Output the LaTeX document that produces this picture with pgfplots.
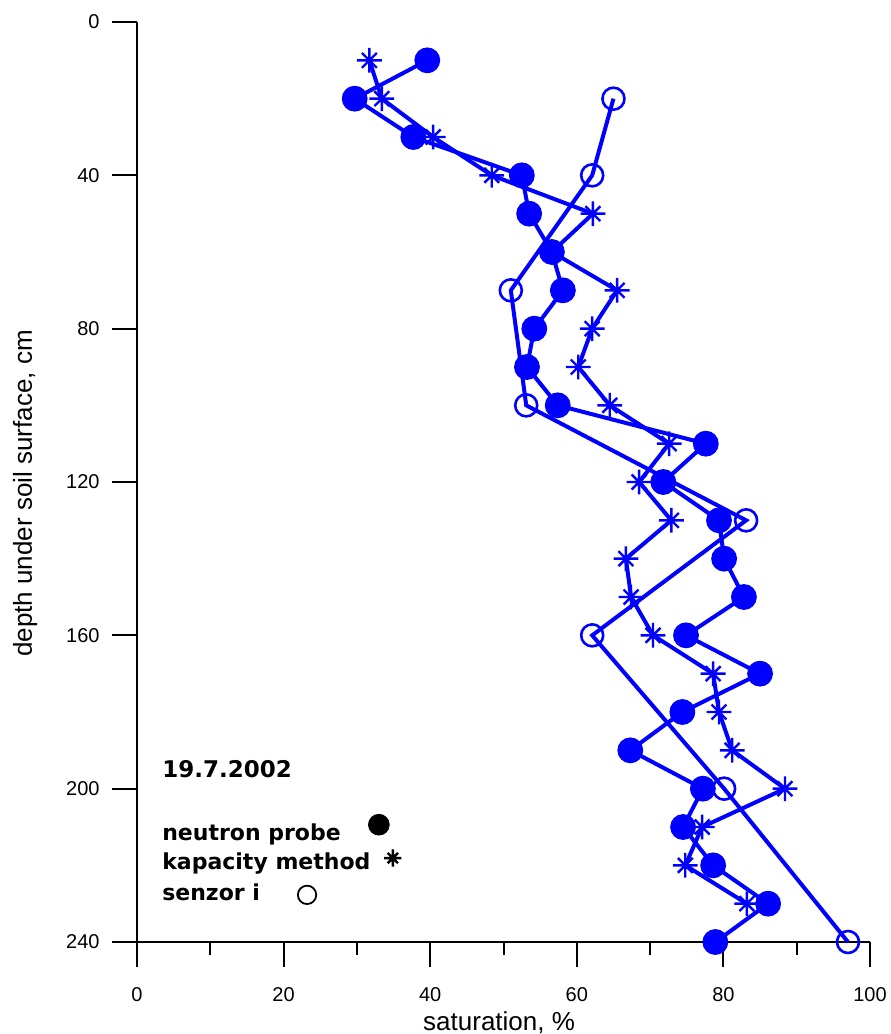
\documentclass[border=0pt]{standalone}
\usepackage{fontspec}
\setmainfont{Liberation Sans}
\newfontfamily\dejavu{DejaVu Sans}
\usepackage{pgfplots}
\pgfplotsset{compat=1.18}
\definecolor{pblue}{RGB}{0,0,255}
\pgfdeclareplotmark{ostar}{%
  \pgfpathmoveto{\pgfqpoint{0pt}{\pgfplotmarksize}}%
  \pgfpathlineto{\pgfqpoint{0pt}{-\pgfplotmarksize}}%
  \pgfpathmoveto{\pgfqpoint{\pgfplotmarksize}{0pt}}%
  \pgfpathlineto{\pgfqpoint{-\pgfplotmarksize}{0pt}}%
  \pgfpathmoveto{\pgfqpoint{.6\pgfplotmarksize}{.6\pgfplotmarksize}}%
  \pgfpathlineto{\pgfqpoint{-.6\pgfplotmarksize}{-.6\pgfplotmarksize}}%
  \pgfpathmoveto{\pgfqpoint{-.6\pgfplotmarksize}{.6\pgfplotmarksize}}%
  \pgfpathlineto{\pgfqpoint{.6\pgfplotmarksize}{-.6\pgfplotmarksize}}%
  \pgfusepathqstroke}
\begin{document}
\begin{tikzpicture}
\begin{axis}[
  name=ax, at={(0,0)}, anchor=south west,
  scale only axis, width=366.5pt, height=460pt,
  xmin=0, xmax=100, ymin=0, ymax=240,
  y dir=reverse,
  axis x line*=bottom, axis y line*=left,
  axis line style={-, line width=1pt, black},
  every tick/.style={black, line width=1pt},
  tick align=outside,
  major tick length=12.5pt, minor tick length=6.3pt,
  xtick={0,20,...,100}, minor xtick={10,30,...,90},
  ytick={0,40,...,240},
  tick label style={font=\fontsize{10}{12}\selectfont},
  xticklabel style={yshift=-6.7pt},
  yticklabel style={xshift=-2.7pt},
  /pgf/number format/assume math mode=true,
  clip=false,
]
% neutron probe
\addplot[pblue, line width=2pt, mark=*, mark size=6.2pt, mark options={fill=pblue, draw=pblue, line width=0.5pt}] coordinates {
(39.6,10) (29.7,20) (37.7,30) (52.5,40) (53.5,50) (56.6,60) (58.1,70) (54.2,80) (53.2,90) (57.4,100)
(77.6,110) (71.8,120) (79.4,130) (80.1,140) (82.8,150) (74.9,160) (85.0,170) (74.4,180) (67.3,190) (77.2,200)
(74.5,210) (78.6,220) (86.1,230) (78.9,240)};
% kapacity method
\addplot[pblue, line width=2pt, mark=ostar, mark size=6.2pt, mark options={line width=1.2pt}] coordinates {
(31.7,10) (33.4,20) (40.4,30) (48.4,40) (62.2,50) (56.6,60) (65.5,70) (62.1,80) (60.2,90) (64.5,100)
(72.6,110) (68.5,120) (72.9,130) (66.7,140) (67.4,150) (70.4,160) (78.6,170) (79.4,180) (81.2,190) (88.4,200)
(77.1,210) (74.8,220) (83.2,230)};
% senzor i
\addplot[pblue, line width=2pt, mark=o, mark size=5.5pt, mark options={line width=1.3pt, fill=none}] coordinates {
(65.0,20) (62.1,40) (51.0,70) (53.1,100) (83.1,130) (62.1,160) (80.1,200) (97.0,240)};
% legend keys
\addplot[only marks, black, mark=*, mark size=5.2pt] coordinates {(33.0,209.4)};
\addplot[only marks, black, mark=ostar, mark size=4.3pt, mark options={line width=1.2pt}] coordinates {(34.9,218.1)};
\addplot[only marks, black, mark=o, mark size=4.6pt, mark options={line width=0.9pt}] coordinates {(23.2,227.7)};
\node[anchor=base west, inner sep=0pt, font=\dejavu\bfseries\fontsize{11.5}{13}\selectfont] at (axis cs:3.4,197.0) {19.7.2002};
\node[anchor=base west, inner sep=0pt, font=\dejavu\bfseries\fontsize{11}{13}\selectfont] at (axis cs:3.4,213.4) {neutron probe};
\node[anchor=base west, inner sep=0pt, font=\dejavu\bfseries\fontsize{11}{13}\selectfont] at (axis cs:3.4,221.0) {kapacity method};
\node[anchor=base west, inner sep=0pt, font=\dejavu\bfseries\fontsize{11}{13}\selectfont] at (axis cs:3.4,229.1) {senzor i};
\path (axis cs:49.4,240) ++(0,-44pt) node[anchor=base, inner sep=0pt, font=\fontsize{13}{15}\selectfont] {saturation, \%};
\path (axis cs:0,123) ++(-52.5pt,0) node[anchor=base, rotate=90, inner sep=0pt, font=\fontsize{13}{15}\selectfont] {depth under soil surface, cm};
\end{axis}
\pgfresetboundingbox
\path[use as bounding box] ([xshift=-68.5pt,yshift=-46pt]ax.south west) rectangle ([xshift=10pt,yshift=11pt]ax.north east);
\end{tikzpicture}
\end{document}
